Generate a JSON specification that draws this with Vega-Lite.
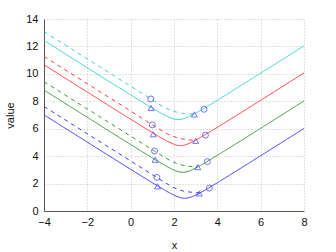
{
  "$schema": "https://vega.github.io/schema/vega-lite/v6.json",
  "width": 260,
  "height": 192,
  "autosize": {"type": "none"},
  "padding": {"left": 44, "top": 19, "right": 32, "bottom": 41},
  "background": "white",
  "config": {
    "view": {"stroke": null},
    "font": "Liberation Sans",
    "axis": {
      "labelFont": "Liberation Sans",
      "titleFont": "Liberation Sans",
      "labelFontSize": 11,
      "titleFontSize": 11,
      "titleFontWeight": "normal",
      "labelColor": "#111",
      "titleColor": "#111",
      "domainColor": "#555",
      "tickColor": "#888",
      "tickSize": 0,
      "labelOverlap": false,
      "labelFlush": false,
      "gridColor": "#c4c4c4",
      "gridDash": [1, 2],
      "gridOpacity": 1
    }
  },
  "datasets": {
    "lines": [
      {"g": "blue", "s": "solid", "x": -4, "y": 7.01},
      {"g": "blue", "s": "solid", "x": -2, "y": 5.02},
      {"g": "blue", "s": "solid", "x": 0, "y": 3.04},
      {"g": "blue", "s": "solid", "x": 1, "y": 2.06},
      {"g": "blue", "s": "solid", "x": 1.5, "y": 1.59},
      {"g": "blue", "s": "solid", "x": 1.75, "y": 1.36},
      {"g": "blue", "s": "solid", "x": 2, "y": 1.16},
      {"g": "blue", "s": "solid", "x": 2.25, "y": 1.0},
      {"g": "blue", "s": "solid", "x": 2.5, "y": 0.93},
      {"g": "blue", "s": "solid", "x": 2.75, "y": 1.0},
      {"g": "blue", "s": "solid", "x": 3, "y": 1.16},
      {"g": "blue", "s": "solid", "x": 3.25, "y": 1.36},
      {"g": "blue", "s": "solid", "x": 3.5, "y": 1.59},
      {"g": "blue", "s": "solid", "x": 4, "y": 2.06},
      {"g": "blue", "s": "solid", "x": 5, "y": 3.04},
      {"g": "blue", "s": "solid", "x": 6, "y": 4.03},
      {"g": "blue", "s": "solid", "x": 8, "y": 6.02},
      {"g": "blue", "s": "dashed", "x": -4, "y": 7.62},
      {"g": "blue", "s": "dashed", "x": -2, "y": 5.63},
      {"g": "blue", "s": "dashed", "x": 0, "y": 3.65},
      {"g": "blue", "s": "dashed", "x": 1.2, "y": 2.45},
      {"g": "blue", "s": "dashed", "x": 1.6, "y": 2.06},
      {"g": "blue", "s": "dashed", "x": 2.0, "y": 1.7},
      {"g": "blue", "s": "dashed", "x": 2.4, "y": 1.47},
      {"g": "blue", "s": "dashed", "x": 2.8, "y": 1.37},
      {"g": "blue", "s": "dashed", "x": 3.2, "y": 1.32},
      {"g": "green", "s": "solid", "x": -4, "y": 8.82},
      {"g": "green", "s": "solid", "x": -2, "y": 6.83},
      {"g": "green", "s": "solid", "x": 0, "y": 4.85},
      {"g": "green", "s": "solid", "x": 1, "y": 3.87},
      {"g": "green", "s": "solid", "x": 1.5, "y": 3.4},
      {"g": "green", "s": "solid", "x": 1.8, "y": 3.14},
      {"g": "green", "s": "solid", "x": 2, "y": 2.98},
      {"g": "green", "s": "solid", "x": 2.2, "y": 2.87},
      {"g": "green", "s": "solid", "x": 2.4, "y": 2.82},
      {"g": "green", "s": "solid", "x": 2.6, "y": 2.87},
      {"g": "green", "s": "solid", "x": 2.8, "y": 2.98},
      {"g": "green", "s": "solid", "x": 3.0, "y": 3.14},
      {"g": "green", "s": "solid", "x": 3.3, "y": 3.4},
      {"g": "green", "s": "solid", "x": 3.8, "y": 3.87},
      {"g": "green", "s": "solid", "x": 5, "y": 5.04},
      {"g": "green", "s": "solid", "x": 6, "y": 6.03},
      {"g": "green", "s": "solid", "x": 8, "y": 8.03},
      {"g": "green", "s": "dashed", "x": -4, "y": 9.43},
      {"g": "green", "s": "dashed", "x": -2, "y": 7.44},
      {"g": "green", "s": "dashed", "x": 0, "y": 5.46},
      {"g": "green", "s": "dashed", "x": 1.1, "y": 4.37},
      {"g": "green", "s": "dashed", "x": 1.5, "y": 3.98},
      {"g": "green", "s": "dashed", "x": 1.9, "y": 3.62},
      {"g": "green", "s": "dashed", "x": 2.3, "y": 3.38},
      {"g": "green", "s": "dashed", "x": 2.7, "y": 3.26},
      {"g": "green", "s": "dashed", "x": 3.1, "y": 3.22},
      {"g": "red", "s": "solid", "x": -4, "y": 10.66},
      {"g": "red", "s": "solid", "x": -2, "y": 8.67},
      {"g": "red", "s": "solid", "x": 0, "y": 6.69},
      {"g": "red", "s": "solid", "x": 1, "y": 5.72},
      {"g": "red", "s": "solid", "x": 1.5, "y": 5.25},
      {"g": "red", "s": "solid", "x": 1.7, "y": 5.08},
      {"g": "red", "s": "solid", "x": 1.9, "y": 4.93},
      {"g": "red", "s": "solid", "x": 2.1, "y": 4.81},
      {"g": "red", "s": "solid", "x": 2.3, "y": 4.77},
      {"g": "red", "s": "solid", "x": 2.5, "y": 4.81},
      {"g": "red", "s": "solid", "x": 2.7, "y": 4.93},
      {"g": "red", "s": "solid", "x": 2.9, "y": 5.08},
      {"g": "red", "s": "solid", "x": 3.1, "y": 5.25},
      {"g": "red", "s": "solid", "x": 3.6, "y": 5.72},
      {"g": "red", "s": "solid", "x": 5, "y": 7.08},
      {"g": "red", "s": "solid", "x": 6, "y": 8.07},
      {"g": "red", "s": "solid", "x": 8, "y": 10.07},
      {"g": "red", "s": "dashed", "x": -4, "y": 11.27},
      {"g": "red", "s": "dashed", "x": -2, "y": 9.28},
      {"g": "red", "s": "dashed", "x": 0, "y": 7.29},
      {"g": "red", "s": "dashed", "x": 1.0, "y": 6.28},
      {"g": "red", "s": "dashed", "x": 1.4, "y": 5.9},
      {"g": "red", "s": "dashed", "x": 1.8, "y": 5.55},
      {"g": "red", "s": "dashed", "x": 2.2, "y": 5.32},
      {"g": "red", "s": "dashed", "x": 2.6, "y": 5.2},
      {"g": "red", "s": "dashed", "x": 3.0, "y": 5.16},
      {"g": "cyan", "s": "solid", "x": -4, "y": 12.44},
      {"g": "cyan", "s": "solid", "x": -2, "y": 10.44},
      {"g": "cyan", "s": "solid", "x": 0, "y": 8.47},
      {"g": "cyan", "s": "solid", "x": 1, "y": 7.5},
      {"g": "cyan", "s": "solid", "x": 1.5, "y": 7.05},
      {"g": "cyan", "s": "solid", "x": 1.6, "y": 6.97},
      {"g": "cyan", "s": "solid", "x": 1.8, "y": 6.82},
      {"g": "cyan", "s": "solid", "x": 2.0, "y": 6.71},
      {"g": "cyan", "s": "solid", "x": 2.2, "y": 6.67},
      {"g": "cyan", "s": "solid", "x": 2.4, "y": 6.71},
      {"g": "cyan", "s": "solid", "x": 2.6, "y": 6.82},
      {"g": "cyan", "s": "solid", "x": 2.8, "y": 6.97},
      {"g": "cyan", "s": "solid", "x": 2.9, "y": 7.05},
      {"g": "cyan", "s": "solid", "x": 3.4, "y": 7.5},
      {"g": "cyan", "s": "solid", "x": 5, "y": 9.06},
      {"g": "cyan", "s": "solid", "x": 6, "y": 10.05},
      {"g": "cyan", "s": "solid", "x": 8, "y": 12.04},
      {"g": "cyan", "s": "dashed", "x": -4, "y": 13.08},
      {"g": "cyan", "s": "dashed", "x": -2, "y": 11.09},
      {"g": "cyan", "s": "dashed", "x": 0, "y": 9.1},
      {"g": "cyan", "s": "dashed", "x": 0.93, "y": 8.17},
      {"g": "cyan", "s": "dashed", "x": 1.3, "y": 7.8},
      {"g": "cyan", "s": "dashed", "x": 1.7, "y": 7.45},
      {"g": "cyan", "s": "dashed", "x": 2.1, "y": 7.22},
      {"g": "cyan", "s": "dashed", "x": 2.5, "y": 7.1},
      {"g": "cyan", "s": "dashed", "x": 2.94, "y": 7.06}
    ],
    "markers": [
      {"shape": "circle", "x": 1.21, "y": 2.45},
      {"shape": "triangle", "x": 1.24, "y": 1.8},
      {"shape": "triangle", "x": 3.17, "y": 1.28},
      {"shape": "circle", "x": 3.63, "y": 1.67},
      {"shape": "circle", "x": 1.1, "y": 4.38},
      {"shape": "triangle", "x": 1.13, "y": 3.74},
      {"shape": "triangle", "x": 3.1, "y": 3.2},
      {"shape": "circle", "x": 3.54, "y": 3.6},
      {"shape": "circle", "x": 1.0, "y": 6.28},
      {"shape": "triangle", "x": 1.04, "y": 5.6},
      {"shape": "triangle", "x": 3.0, "y": 5.12},
      {"shape": "circle", "x": 3.45, "y": 5.53},
      {"shape": "circle", "x": 0.93, "y": 8.17},
      {"shape": "triangle", "x": 0.94, "y": 7.51},
      {"shape": "triangle", "x": 2.94, "y": 7.04},
      {"shape": "circle", "x": 3.39, "y": 7.42}
    ]
  },
  "encoding": {
    "x": {
      "field": "x", "type": "quantitative",
      "scale": {"domain": [-4, 8], "nice": false, "zero": false},
      "axis": {"values": [-4, -2, 0, 2, 4, 6, 8], "title": "x", "labelPadding": 5, "titlePadding": 12, "grid": true, "labelOverlap": false}
    },
    "y": {
      "field": "y", "type": "quantitative",
      "scale": {"domain": [0, 14], "nice": false, "zero": false},
      "axis": {"values": [0, 2, 4, 6, 8, 10, 12, 14], "title": "value", "labelPadding": 6, "titlePadding": 10, "grid": true, "labelOverlap": false, "labelFontSize": 11}
    }
  },
  "layer": [
    {
      "data": {"name": "lines"},
      "mark": {"type": "line", "strokeWidth": 1, "interpolate": "monotone"},
      "encoding": {
        "color": {
          "field": "g", "type": "nominal", "legend": null,
          "scale": {"domain": ["blue", "green", "red", "cyan"], "range": ["#3b3bff", "#3a9a3a", "#ff3b3b", "#3cd2d2"]}
        },
        "strokeDash": {
          "field": "s", "type": "nominal", "legend": null,
          "scale": {"domain": ["solid", "dashed"], "range": [[1, 0], [4, 4]]}
        },
        "detail": {"field": "s"}
      }
    },
    {
      "data": {"name": "markers"},
      "mark": {"type": "point", "filled": false, "strokeWidth": 1, "size": 36, "color": "#3b3bff"},
      "encoding": {
        "shape": {
          "field": "shape", "type": "nominal", "legend": null,
          "scale": {"domain": ["circle", "triangle"], "range": ["circle", "triangle-up"]}
        }
      }
    }
  ]
}
